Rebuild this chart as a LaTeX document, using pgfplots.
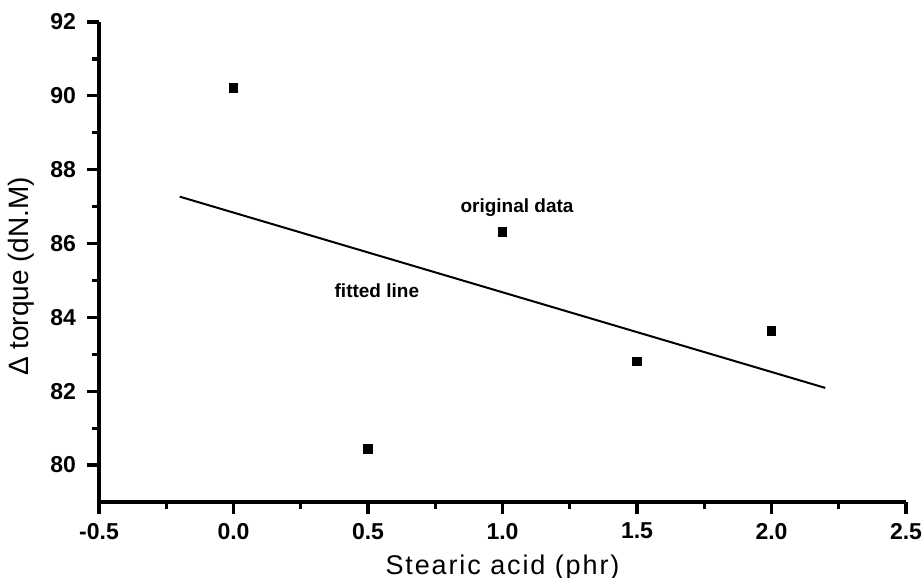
\documentclass[border=0pt]{standalone}
\usepackage{pgfplots}
\pgfplotsset{compat=1.18}
\usepackage{fontspec}
\setmainfont{Liberation Sans}

% Measured torque difference against stearic acid content
\pgfplotstableread{
x y
0.0 90.22
0.5 80.43
1.0 86.31
1.5 82.81
2.0 83.63
}\measured

% Least-squares line over the five measurements
\pgfplotstableread{
x y
-0.2 87.27
2.2 82.09
}\fitted

\begin{document}
\begin{tikzpicture}
\begin{axis}[
  scale only axis,
  width=403.5pt, height=240pt,
  xmin=-0.5, xmax=2.5, ymin=79, ymax=92,
  axis x line=bottom, axis y line=left,
  axis line style={-, line width=1.8pt},
  xtick={-0.5,0,0.5,1,1.5,2,2.5},
  ytick={80,82,84,86,88,90,92},
  minor x tick num=1, minor y tick num=1,
  tick align=outside,
  major tick length=6pt, minor tick length=3.5pt,
  every tick/.style={black, line width=1.6pt},
  tick label style={font=\fontsize{11.5}{13}\selectfont\bfseries},
  /pgf/number format/assume math mode=true,
  /pgf/number format/fixed,
  /pgf/number format/fixed zerofill,
  xticklabel style={/pgf/number format/precision=1, yshift=-1pt},
  yticklabel style={/pgf/number format/precision=0, xshift=-2pt},
  xlabel={Stearic acid (phr)},
  ylabel={Δ torque (dN.M)},
  xlabel style={font=\fontsize{13.5}{15}\selectfont\addfontfeatures{LetterSpace=7}, yshift=-1pt},
  ylabel style={font=\fontsize{14}{16}\selectfont, at={(ticklabel cs:0.47)}, yshift=1pt},
  clip=false,
]
\addplot[only marks, mark=square*, mark size=2.2pt, black] table[x=x, y=y] {\measured};
\addplot[black, line width=1pt] table[x=x, y=y] {\fitted};
\node[font=\fontsize{9.5}{11}\selectfont\bfseries] at (axis cs:1.054,86.96) {original data};
\node[font=\fontsize{9.5}{11}\selectfont\bfseries] at (axis cs:0.533,84.71) {fitted line};
\end{axis}
\pgfresetboundingbox
\useasboundingbox (-49.5pt,-38pt) rectangle (412pt,251pt);
\end{tikzpicture}
\end{document}
